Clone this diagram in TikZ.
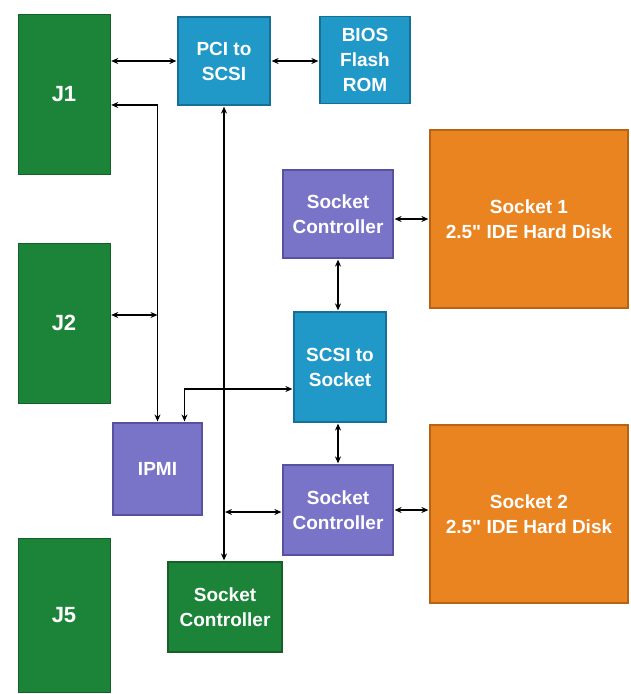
\documentclass[tikz,border=0pt]{standalone}
\usepackage{fontspec}
\setmainfont{Liberation Sans}[Ligatures=TeXOff]
\usetikzlibrary{arrows.meta}
\definecolor{jgreen}{RGB}{28,132,56}
\definecolor{jgreenD}{RGB}{20,96,40}
\definecolor{pciblue}{RGB}{32,152,200}
\definecolor{pciblueD}{RGB}{22,112,150}
\definecolor{ctlpurple}{RGB}{122,116,200}
\definecolor{ctlpurpleD}{RGB}{88,82,158}
\definecolor{diskorange}{RGB}{233,132,32}
\definecolor{diskorangeD}{RGB}{184,98,20}
\begin{document}
\begin{tikzpicture}[x=1pt,y=-1pt,
	blk/.style={rectangle,inner sep=0pt,align=center,text=white,line width=1.2pt,
		font=\fontsize{19}{25}\selectfont\bfseries},
	conn/.style={rectangle,inner sep=0pt,minimum width=92pt,minimum height=160pt,
		fill=jgreen,draw=jgreenD,text=white,font=\fontsize{22}{26}\selectfont\bfseries},
	bluebox/.style={blk,fill=pciblue,draw=pciblueD},
	purplebox/.style={blk,fill=ctlpurple,draw=ctlpurpleD},
	greenbox/.style={blk,fill=jgreen,draw=jgreenD},
	diskbox/.style={blk,fill=diskorange,draw=diskorangeD,minimum width=198pt,minimum height=178pt},
	biarrow/.style={{Stealth[length=7pt,width=6pt]}-{Stealth[length=7pt,width=6pt]},line width=1.7pt,shorten <=1pt,shorten >=1pt},
	]
		\useasboundingbox (0,0) rectangle (630,694);
		\node[conn] (J1) at (64,94) {J1};
		\node[conn] (J2) at (64,323) {J2};
		\node[conn,minimum height=154pt] (J5) at (64,615) {J5};
		\node[bluebox,minimum width=92pt,minimum height=88pt] (PCI) at (224,61) {PCI to\\SCSI};
		\node[bluebox,minimum width=90pt,minimum height=87pt] (BIOS) at (365,60) {BIOS\\Flash\\ROM};
		\node[purplebox,minimum width=110pt,minimum height=88pt] (SC1) at (338,214) {Socket\\Controller};
		\node[diskbox] (Disk1) at (529,219) {Socket 1\\2.5" IDE Hard Disk};
		\node[bluebox,minimum width=92pt,minimum height=110pt] (S2S) at (340,367) {SCSI to\\Socket};
		\node[purplebox,minimum width=89pt,minimum height=92pt] (IPMI) at (157.5,469) {IPMI};
		\node[purplebox,minimum width=110pt,minimum height=90pt] (SC2) at (338,510) {Socket\\Controller};
		\node[greenbox,minimum width=114pt,minimum height=90pt] (SCg) at (225,607) {Socket\\Controller};
		\node[diskbox] (Disk2) at (529,514) {Socket 2\\2.5" IDE Hard Disk};
		\draw[biarrow] (PCI.west -| J1.east) to (PCI.west);
		\draw[biarrow] (PCI.east) to (PCI.east -| BIOS.west);
		\draw[biarrow] ([yshift=-11pt]J1.east) -| (IPMI.north);
		\draw[biarrow,shorten >=0pt] ([yshift=8pt]J2.east) to ([yshift=8pt]J2.east -| IPMI.north);
		\draw[biarrow] (PCI.south) to (PCI.south |- SCg.north);
		\draw[biarrow] ([xshift=27pt]IPMI.north) |- ([yshift=-22pt]S2S.west);
		\draw[biarrow] ([yshift=-2pt]SC2.west -| PCI.south) to ([yshift=-2pt]SC2.west);
		\draw[biarrow] (Disk1.west -| SC1.east) to (Disk1.west);
		\draw[biarrow] (SC1.south) to (SC1.south |- S2S.north);
		\draw[biarrow] (S2S.south -| SC2.north) to (SC2.north);
		\draw[biarrow] (SC2.east) to (SC2.east -| Disk2.west);
	\end{tikzpicture}
\end{document}
